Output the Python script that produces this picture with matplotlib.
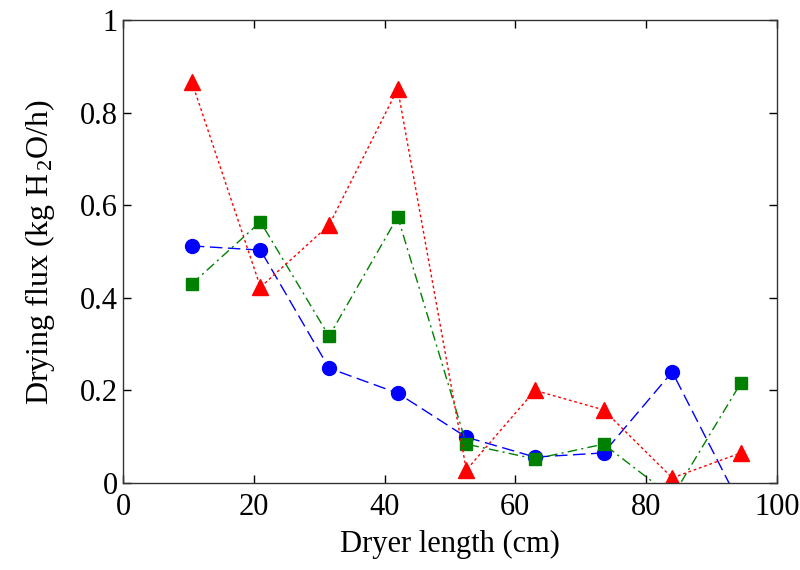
import matplotlib
matplotlib.use("Agg")
import matplotlib.pyplot as plt

plt.rcParams['font.family'] = ['Liberation Serif', 'DejaVu Serif']
plt.rcParams['mathtext.fontset'] = 'custom'
plt.rcParams['mathtext.rm'] = 'Liberation Serif'
plt.rcParams['mathtext.it'] = 'Liberation Serif:italic'

# Dryer positions (cm) and drying flux for three runs
length_cm = [10.5, 21, 31.5, 42, 52.5, 63, 73.5, 84, 94.5]
flux_circle = [0.512, 0.503, 0.248, 0.194, 0.099, 0.056, 0.065, 0.240, -0.05]
flux_square = [0.430, 0.564, 0.317, 0.575, 0.084, 0.052, 0.084, -0.03, 0.216]
flux_triangle = [0.866, 0.423, 0.557, 0.851, 0.028, 0.200, 0.158, 0.011, 0.065]

fig = plt.figure(figsize=(8, 5.7), dpi=100)
ax = fig.add_axes([0.154, 0.1526, 0.817, 0.8124])

ax.plot(length_cm, flux_circle, color='blue', linestyle=(0, (9, 4)), linewidth=1,
        marker='o', markersize=10, markerfacecolor='blue', markeredgecolor='blue')
ax.plot(length_cm, flux_square, color='green', linestyle=(0, (7, 3, 1.5, 3)), linewidth=1,
        marker='s', markersize=9, markerfacecolor='green', markeredgecolor='green')
ax.plot(length_cm, flux_triangle, color='red', linestyle=(0, (2, 2)), linewidth=1,
        marker='^', markersize=11, markerfacecolor='red', markeredgecolor='red')

ax.set_xlim(0, 100)
ax.set_ylim(0, 1)
ax.set_xticks([0, 20, 40, 60, 80, 100])
ax.set_yticks([0, 0.2, 0.4, 0.6, 0.8, 1])
ax.set_xticklabels(['0', '20', '40', '60', '80', '100'])
ax.set_yticklabels(['0', '0.2', '0.4', '0.6', '0.8', '1'])
ax.tick_params(direction='in', top=True, right=True, length=6, width=1,
               labelsize=22, colors='black')
ax.tick_params(axis='x', pad=7)
ax.tick_params(axis='y', pad=4)
for s in ax.spines.values():
    s.set_linewidth(1)
    s.set_color('#333333')

ax.set_xlabel('Dryer length (cm)', fontsize=22, labelpad=6)
ax.set_ylabel('Drying flux (kg H$_{\\,2}$O/h)', fontsize=23, labelpad=16)

fig.savefig('out.png', dpi=100)
